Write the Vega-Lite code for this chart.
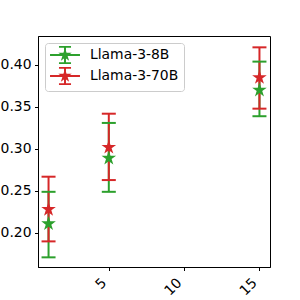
{
  "$schema": "https://vega.github.io/schema/vega-lite/v6.json",
  "width": 232,
  "height": 231,
  "autosize": {"type": "none"},
  "padding": {"left": 38, "top": 36, "right": 30, "bottom": 33},
  "background": "white",
  "data": {
    "values": [
      {"model": "Llama-3-8B", "x": 1, "mean": 0.211, "lo": 0.171, "hi": 0.249},
      {"model": "Llama-3-8B", "x": 5, "mean": 0.289, "lo": 0.249, "hi": 0.331},
      {"model": "Llama-3-8B", "x": 15, "mean": 0.370, "lo": 0.339, "hi": 0.404},
      {"model": "Llama-3-70B", "x": 1, "mean": 0.228, "lo": 0.190, "hi": 0.267},
      {"model": "Llama-3-70B", "x": 5, "mean": 0.302, "lo": 0.263, "hi": 0.342},
      {"model": "Llama-3-70B", "x": 15, "mean": 0.385, "lo": 0.348, "hi": 0.421}
    ]
  },
  "encoding": {
    "x": {
      "field": "x", "type": "quantitative",
      "scale": {"domain": [0.3, 15.7], "nice": false, "zero": false},
      "axis": {"values": [5, 10, 15], "labelAngle": -45, "labelAlign": "right", "labelBaseline": "middle", "labelPadding": 10, "labelOffset": -5, "title": null, "format": "d"}
    },
    "color": {
      "field": "model", "type": "nominal",
      "scale": {"domain": ["Llama-3-8B", "Llama-3-70B"], "range": ["#2ca02c", "#d62728"]},
      "legend": {
        "title": null,
        "orient": "top-left",
        "offset": 7,
        "strokeColor": "#cccccc",
        "cornerRadius": 3,
        "fillColor": "white",
        "padding": 5,
        "rowPadding": 1,
        "symbolOffset": 8,
        "labelOffset": 18,
        "labelFont": "DejaVu Sans",
        "labelFontSize": 13.9,
        "labelColor": "black",
        "labelLimit": 300,
        "symbolSize": 196,
        "symbolStrokeWidth": 0,
        "symbolOpacity": 1,
        "symbolType": "M-2.14,-0.14L2.14,-0.14L2.14,0.14L-2.14,0.14Z M-0.14,-1.2L0.14,-1.2L0.14,1.2L-0.14,1.2Z M-0.86,-1.3L0.86,-1.3L0.86,-1.02L-0.86,-1.02Z M-0.86,1.02L0.86,1.02L0.86,1.3L-0.86,1.3Z M0,-1L0.2245,-0.309L0.951,-0.309L0.3633,0.118L0.588,0.809L0,0.382L-0.588,0.809L-0.3633,0.118L-0.951,-0.309L-0.2245,-0.309Z"
      }
    }
  },
  "layer": [
    {
      "mark": {"type": "rule", "strokeWidth": 2},
      "encoding": {
        "y": {"field": "lo", "type": "quantitative",
          "scale": {"domain": [0.1595, 0.4345], "nice": false, "zero": false},
          "axis": {"values": [0.2, 0.25, 0.3, 0.35, 0.4], "format": ".2f", "title": null}},
        "y2": {"field": "hi"}
      }
    },
    {
      "mark": {"type": "tick", "orient": "horizontal", "size": 14, "thickness": 2, "opacity": 1},
      "encoding": {"y": {"field": "lo", "type": "quantitative"}}
    },
    {
      "mark": {"type": "tick", "orient": "horizontal", "size": 14, "thickness": 2, "opacity": 1},
      "encoding": {"y": {"field": "hi", "type": "quantitative"}}
    },
    {
      "mark": {"type": "point", "filled": true, "opacity": 1, "size": 235,
        "shape": "M0,-1L0.2245,-0.309L0.951,-0.309L0.3633,0.118L0.588,0.809L0,0.382L-0.588,0.809L-0.3633,0.118L-0.951,-0.309L-0.2245,-0.309Z"},
      "encoding": {
        "y": {"field": "mean", "type": "quantitative"}
      }
    }
  ],
  "config": {
    "view": {"stroke": "black", "strokeWidth": 1},
    "axis": {
      "grid": false,
      "domainColor": "black",
      "domainWidth": 1,
      "tickColor": "black",
      "tickWidth": 1,
      "tickSize": 3.5,
      "labelColor": "black",
      "labelFont": "DejaVu Sans",
      "labelFontSize": 13.9,
      "labelPadding": 3.5
    }
  }
}
